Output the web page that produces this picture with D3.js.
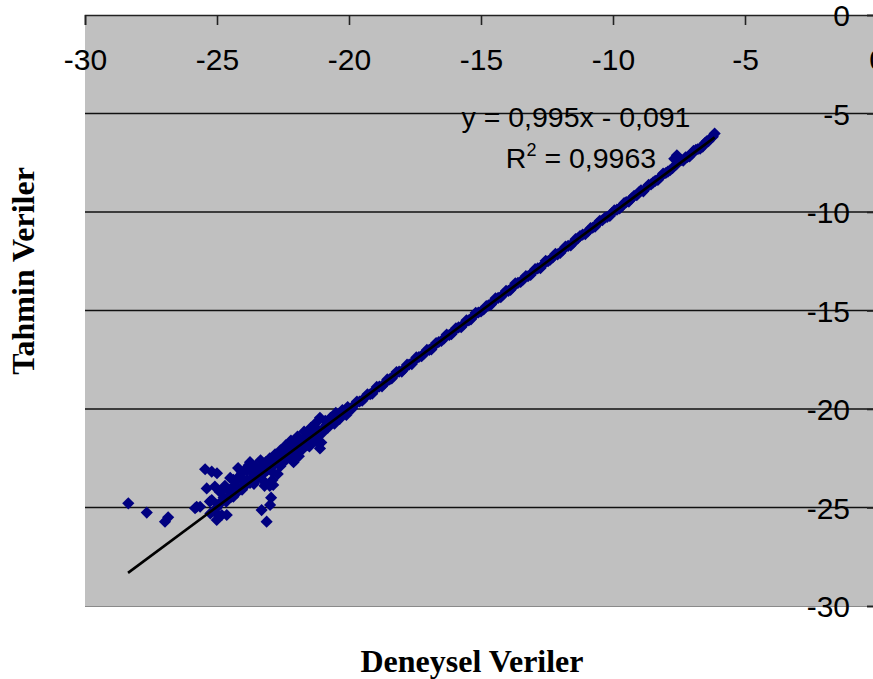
<!DOCTYPE html>
<html>
<head>
<meta charset="utf-8">
<script src="https://cdn.jsdelivr.net/npm/d3@7"></script>
<style>
  body { margin: 0; background: #fff; }
  svg { display: block; }
  .tick text { font-family: "Liberation Sans", Arial, sans-serif; font-size: 30px; fill: #000; }
  .title { font-family: "Liberation Serif", "Times New Roman", serif; font-weight: bold; font-size: 32px; }
  .eq { font-family: "Liberation Sans", Arial, sans-serif; font-size: 28.5px; }
</style>
</head>
<body>
<div id="chart"></div>
<script>
// Deneysel (measured) values - x
var deneysel = [
  -6.15,-6.3,-6.45,-6.6,-6.78,-6.95,-7.1,-7.25,-7.42,-7.58,-7.6,-7.75,-7.92,-8.1,-8.3,-8.48,-8.65,-8.85,-9.02,-9.2,
  -9.4,-9.58,-9.75,-9.95,-10.12,-10.3,-10.5,-10.68,-10.85,-11.05,-11.25,-11.42,-11.6,-11.8,-12.0,-12.18,-12.38,-12.55,-12.75,-12.95,
  -13.12,-13.3,-13.5,-13.7,-13.88,-14.05,-14.25,-14.45,-14.62,-14.8,-15.0,-15.2,-15.38,-15.55,-15.75,-15.95,-16.12,-16.3,-16.5,-16.7,
  -16.88,-17.05,-17.25,-17.45,-17.62,-17.8,-18.0,-18.2,-18.38,-18.55,-18.75,-18.95,-19.12,-19.3,-19.5,-19.7,-19.88,
  -20.05,-20.1,-20.25,-20.35,-20.5,-20.55,-20.7,-20.8,-20.9,-21.0,-21.1,-21.05,-21.1,-21.2,-21.3,-21.4,-21.5,-21.6,-21.7,-21.8,
  -21.9,-22.0,-22.1,-22.2,-22.3,-22.4,-22.5,-22.6,-22.7,-22.8,-22.9,-23.0,-23.05,-23.15,-23.2,-23.3,-23.35,-23.45,-23.55,-23.6,
  -23.7,-23.8,-23.85,-23.95,-24.05,-24.15,-24.2,-24.3,-24.4,-24.5,-24.6,-24.7,-24.85,-24.9,-25.0,
  -28.36,-27.66,-26.97,-26.85,-25.45,-25.2,-25.0,-25.39,-25.08,-24.82,-25.83,-25.64,-25.27,-25.01,-24.82,-24.63,
  -23.31,-22.99,-23.12,-22.95,-23.2,-22.87,-24.38,-24.38,-23.88,-23.5,-25.77,-25.2
];
// Tahmin (predicted) values - y
var tahmin = [
  -6.02,-6.25,-6.41,-6.68,-6.8,-6.9,-7.18,-7.22,-7.35,-7.12,-7.58,-7.78,-7.95,-8.05,-8.37,-8.5,-8.62,-8.95,-9.0,-9.18,
  -9.47,-9.55,-9.82,-9.92,-10.2,-10.28,-10.45,-10.75,-10.82,-11.12,-11.22,-11.38,-11.7,-11.76,-12.08,-12.12,-12.42,-12.48,-12.85,-12.9,
  -13.2,-13.25,-13.55,-13.62,-13.95,-14.0,-14.32,-14.38,-14.7,-14.78,-15.05,-15.12,-15.45,-15.5,-15.85,-15.9,-16.2,-16.22,-16.55,-16.65,
  -16.98,-17.0,-17.32,-17.38,-17.72,-17.75,-18.1,-18.12,-18.45,-18.5,-18.85,-18.88,-19.22,-19.25,-19.58,-19.62,-19.98,
  -19.9,-20.3,-20.05,-20.5,-20.2,-20.75,-20.45,-20.95,-20.6,-21.2,-20.45,-21.7,-22.0,-21.4,-21.0,-21.7,-21.3,-21.85,-21.5,-22.1,
  -21.7,-22.3,-21.85,-22.4,-22.0,-22.6,-22.2,-22.1,-22.75,-22.3,-23.2,-22.5,-23.0,-22.7,-23.7,-23.0,-22.6,-23.4,-22.9,-23.8,
  -23.2,-22.85,-23.6,-23.1,-24.1,-23.4,-23.0,-23.7,-24.2,-23.5,-24.5,-23.9,-24.75,-24.2,-25.0,
  -24.79,-25.26,-25.72,-25.5,-23.06,-23.18,-23.26,-24.03,-23.94,-24.2,-25.04,-24.96,-24.7,-25.63,-25.38,-25.38,
  -25.13,-24.87,-25.72,-24.5,-23.9,-23.86,-23.6,-24.45,-23.1,-23.44,-24.96,-24.62
];

// second batch of readings (filling the dense band)
var deneysel2 = [
  -6.22,-6.38,-6.52,-6.7,-6.86,-7.02,-7.18,-7.34,-7.5,-7.68,-7.84,-8.0,-8.2,-8.4,-8.56,-8.75,-8.94,-9.1,-9.3,-9.5,
  -9.66,-9.85,-10.04,-10.22,-10.4,-10.6,-10.77,-10.95,-11.15,-11.34,-11.5,-11.7,-11.9,-12.1,-12.28,-12.46,-12.65,-12.85,-13.04,-13.22,
  -13.4,-13.6,-13.8,-13.96,-14.15,-14.35,-14.54,-14.72,-14.9,-15.1,-15.3,-15.46,-15.65,-15.85,-16.04,-16.2,-16.4,-16.6,-16.8,-16.96,
  -17.15,-17.35,-17.54,-17.72,-17.9,-18.1,-18.3,-18.46,-18.65,-18.85,-19.04,-19.2,-19.4,-19.6,-19.8,-19.96,
  -20.15,-20.3,-20.45,-20.6,-20.75,-20.85,-20.95,-21.15,-21.25,-21.35,-21.45,-21.55,-21.65,-21.75,-21.85,-21.95,-22.05,-22.15,-22.25,-22.35,
  -22.45,-22.55,-22.65,-22.75,-22.85,-22.95,-23.1,-23.25,-23.4,-23.5,-23.65,-23.75,-23.9,-24.0,-24.1,-24.25,-24.35,-24.45,-24.55,-24.65,
  -24.75,-24.95,-25.1,-25.25,-22.7,-22.9,-23.0,-22.6,-21.9,-22.1,-21.5,-21.2,-23.75,-24.05,-22.4,-22.2,-21.95,-21.7,-21.45,-21.25
];
var tahmin2 = [
  -6.18,-6.4,-6.5,-6.78,-6.85,-7.05,-7.2,-7.4,-7.45,-7.3,-7.88,-8.02,-8.22,-8.42,-8.6,-8.78,-8.9,-9.15,-9.32,-9.5,
  -9.7,-9.88,-10.05,-10.25,-10.42,-10.6,-10.8,-10.98,-11.15,-11.35,-11.55,-11.72,-11.92,-12.15,-12.3,-12.5,-12.68,-12.86,-13.05,-13.26,
  -13.42,-13.6,-13.82,-14.0,-14.18,-14.36,-14.56,-14.74,-14.95,-15.1,-15.3,-15.5,-15.68,-15.86,-16.06,-16.24,-16.42,-16.6,-16.82,-17.0,
  -17.18,-17.36,-17.56,-17.74,-17.95,-18.1,-18.3,-18.5,-18.7,-18.86,-19.06,-19.25,-19.42,-19.62,-19.8,-20.05,
  -20.15,-20.3,-20.4,-20.55,-20.7,-20.8,-20.95,-21.1,-21.25,-21.35,-21.5,-21.55,-21.65,-21.8,-21.85,-22.0,-22.05,-22.15,-22.25,-22.3,
  -22.45,-22.55,-22.4,-22.6,-22.85,-22.75,-23.1,-23.3,-23.2,-23.55,-23.5,-23.75,-23.85,-23.6,-24.0,-24.25,-23.9,-24.45,-24.1,-24.7,
  -24.5,-24.85,-25.2,-25.3,-23.3,-23.6,-23.9,-22.9,-22.4,-22.7,-21.9,-21.7,-22.7,-23.25,-21.85,-21.6,-21.4,-21.15,-20.95,-20.7
];

var xTicks = [-30, -25, -20, -15, -10, -5, 0];
var yTicks = [0, -5, -10, -15, -20, -25, -30];
var gridValues = [-5, -10, -15, -20, -25];

// trendline from the label: y = 0,995x - 0,091
var slope = 0.995;
var intercept = -0.091;
var trendFrom = -28.37;
var trendTo = -6.15;

var width = 873;
var height = 679;

var svg = d3.select("#chart").append("svg")
  .attr("width", width)
  .attr("height", height);

var xScale = d3.scaleLinear().domain([-30, 0]).range([85, 877]);
var yScale = d3.scaleLinear().domain([0, -30]).range([15, 606]);

//Plot area
svg.append("rect")
  .attr("x", xScale(-30))
  .attr("y", yScale(0))
  .attr("width", xScale(0) - xScale(-30))
  .attr("height", yScale(-30) - yScale(0))
  .attr("fill", "#c0c0c0");

//Bottom edge
svg.append("line")
  .attr("x1", xScale(-30)).attr("x2", xScale(0))
  .attr("y1", yScale(-30) + 0.5).attr("y2", yScale(-30) + 0.5)
  .attr("stroke", "#8a8a8a").attr("stroke-width", 1);

//Gridlines
svg.selectAll(".grid")
  .data(gridValues)
  .enter()
  .append("line")
  .attr("class", "grid")
  .attr("x1", xScale(-30))
  .attr("x2", xScale(0))
  .attr("y1", function(d) { return yScale(d); })
  .attr("y2", function(d) { return yScale(d); })
  .attr("stroke", "#111")
  .attr("stroke-width", 1.6);

//X axis (at y = 0, top)
var xAxis = d3.axisBottom(xScale)
  .tickValues(xTicks)
  .tickSize(10)
  .tickFormat(function(d) { return String(d); });

var gx = svg.append("g")
  .attr("transform", "translate(0," + yScale(0) + ")")
  .call(xAxis);
gx.select(".domain").attr("stroke", "#222").attr("stroke-width", 1.6);
gx.selectAll(".tick line").attr("stroke", "#222").attr("stroke-width", 1.6);
gx.selectAll(".tick text").attr("y", 55).attr("dy", 0);

//Y axis (at x = 0, right)
var yAxis = d3.axisLeft(yScale)
  .tickValues(yTicks)
  .tickSize(10)
  .tickFormat(function(d) { return String(d); });

var gy = svg.append("g")
  .attr("transform", "translate(" + xScale(0) + ",0)")
  .call(yAxis);
gy.select(".domain").attr("stroke", "#222").attr("stroke-width", 1.6);
gy.selectAll(".tick line").attr("stroke", "#222").attr("stroke-width", 1.6);
gy.selectAll(".tick text").attr("x", -27).attr("dy", "0.36em");

//Points
var points = deneysel.map(function(d, i) { return [d, tahmin[i]]; })
  .concat(deneysel2.map(function(d, i) { return [d, tahmin2[i]]; }));
var diamond = d3.symbol().type(d3.symbolSquare).size(74);

svg.selectAll(".pt")
  .data(points)
  .enter()
  .append("path")
  .attr("class", "pt")
  .attr("d", diamond)
  .attr("transform", function(d) {
    return "translate(" + xScale(d[0]) + "," + yScale(d[1]) + ") rotate(45)";
  })
  .attr("fill", "#000080");

//Trendline
svg.append("line")
  .attr("x1", xScale(trendFrom))
  .attr("y1", yScale(slope * trendFrom + intercept))
  .attr("x2", xScale(trendTo))
  .attr("y2", yScale(slope * trendTo + intercept))
  .attr("stroke", "#000")
  .attr("stroke-width", 2.6);

//Equation labels
svg.append("text")
  .attr("class", "eq")
  .attr("x", 576)
  .attr("y", 127)
  .attr("text-anchor", "middle")
  .text("y = 0,995x - 0,091");

var r2 = svg.append("text")
  .attr("class", "eq")
  .attr("x", 581)
  .attr("y", 168)
  .attr("text-anchor", "middle");
r2.append("tspan").text("R");
r2.append("tspan").attr("font-size", "18px").attr("dy", -12).text("2");
r2.append("tspan").attr("dy", 12).text(" = 0,9963");

//Axis titles
svg.append("text")
  .attr("class", "title")
  .attr("x", 472)
  .attr("y", 672)
  .attr("text-anchor", "middle")
  .text("Deneysel Veriler");

svg.append("text")
  .attr("class", "title")
  .attr("transform", "translate(34,271) rotate(-90)")
  .attr("text-anchor", "middle")
  .text("Tahmin Veriler");
</script>
</body>
</html>
